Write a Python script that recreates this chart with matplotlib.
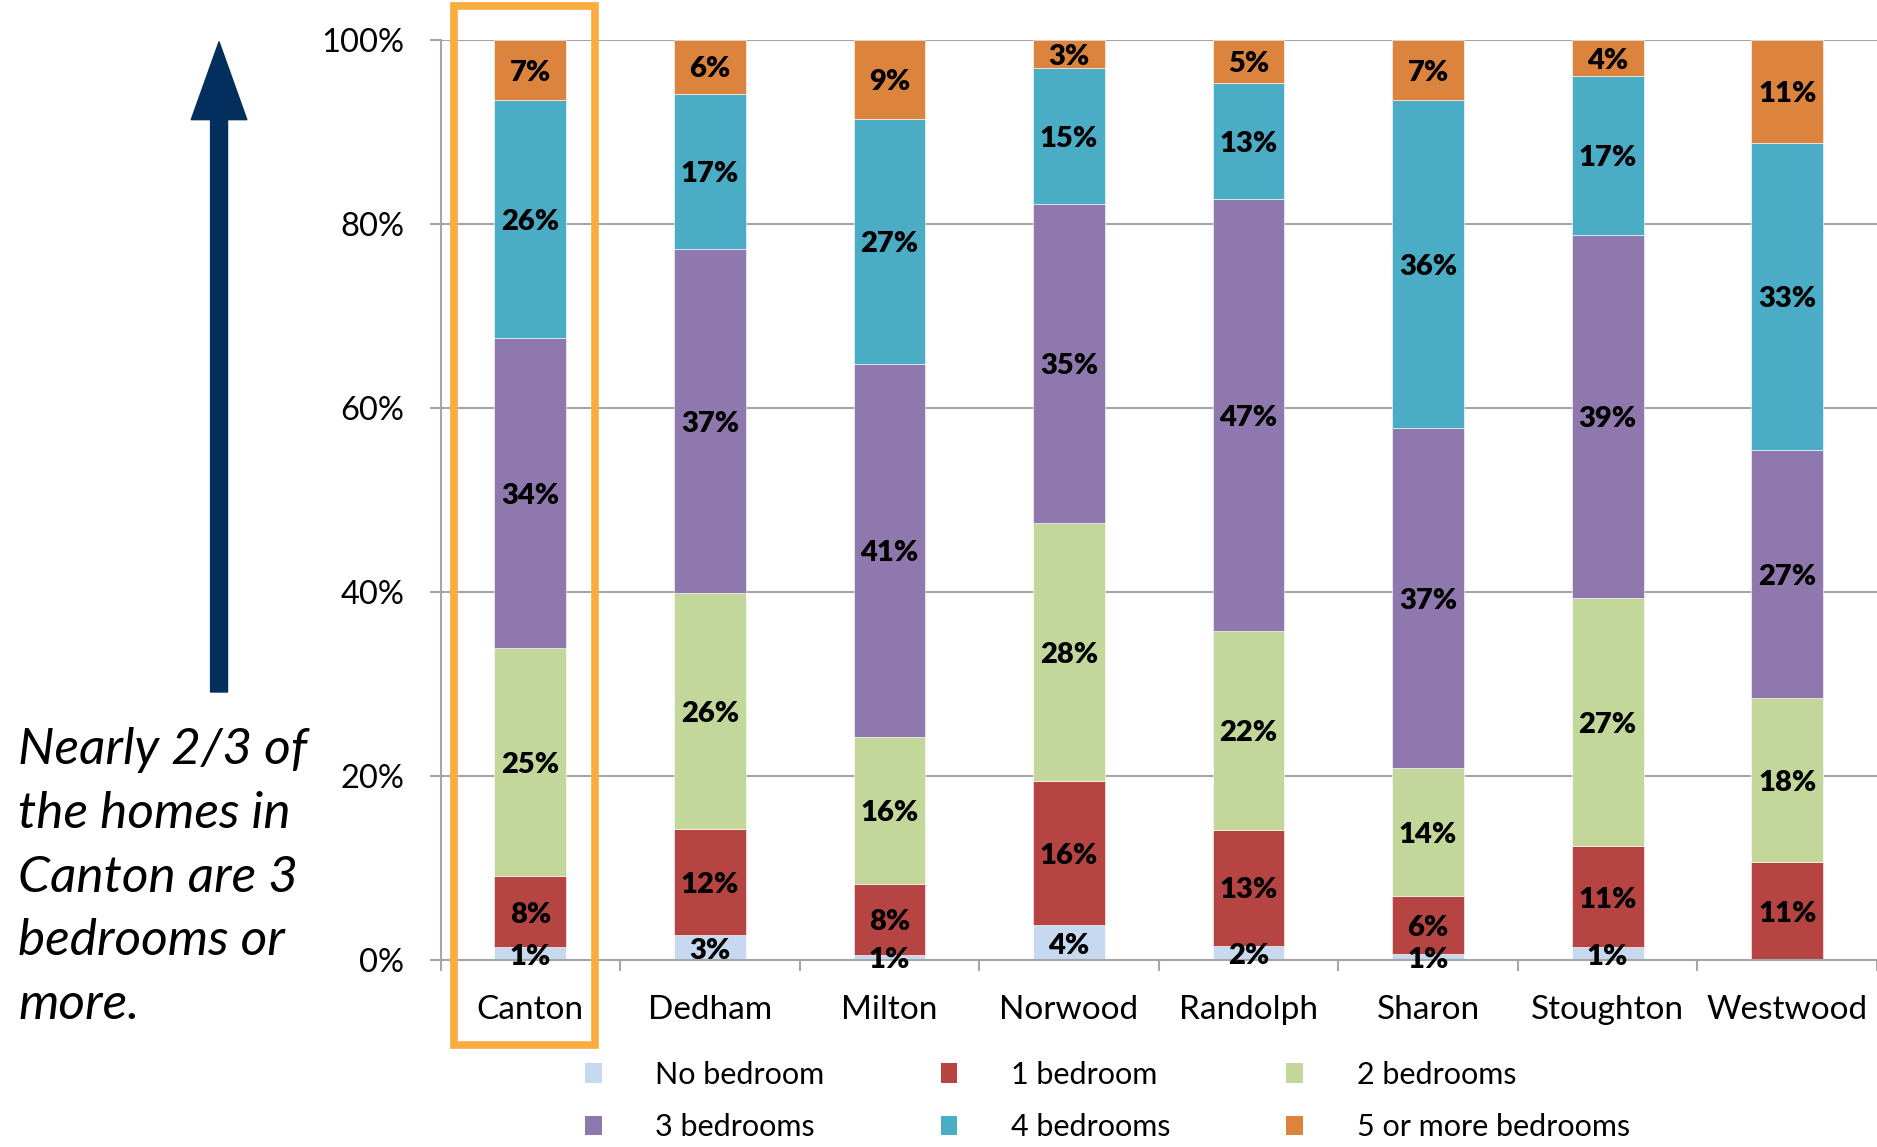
import matplotlib
matplotlib.use("Agg")
import matplotlib.pyplot as plt
import numpy as np
from matplotlib.patches import Patch, Rectangle

plt.rcParams['font.family'] = ['Lato', 'DejaVu Sans']

# --------------------------------------------------------------------------
# Data (share of homes, %)
# --------------------------------------------------------------------------
towns = ["Canton", "Dedham", "Milton", "Norwood", "Randolph", "Sharon", "Stoughton", "Westwood"]
series_names = ["No bedroom", "1 bedroom", "2 bedrooms", "3 bedrooms", "4 bedrooms", "5 or more bedrooms"]
no_bedroom = [1.4, 2.7, 0.6, 3.8, 1.6, 0.7, 1.4, 0.0]
one_bedroom = [7.7, 11.6, 7.7, 15.7, 12.6, 6.3, 11.0, 10.7]
two_bedrooms = [24.8, 25.6, 15.9, 28.0, 21.6, 13.9, 27.0, 17.8]
three_bedrooms = [33.7, 37.4, 40.6, 34.6, 46.9, 36.9, 39.4, 26.9]
four_bedrooms = [25.8, 16.8, 26.6, 14.8, 12.6, 35.6, 17.2, 33.4]
five_plus = [6.6, 5.9, 8.6, 3.1, 4.7, 6.6, 4.0, 11.2]
colors = ["#C6D9F0", "#B64442", "#C4D79B", "#8F78AD", "#4BACC6", "#DC843E"]

note = "Nearly 2/3 of\nthe homes in\nCanton are 3\nbedrooms or\nmore."

# --------------------------------------------------------------------------
# Figure
# --------------------------------------------------------------------------
fig = plt.figure(figsize=(18.77, 11.47), dpi=100)
ax = fig.add_axes([0.2347, 0.1628, 0.7653, 0.8027])

grid_c = "#A6A6A6"
x = np.arange(len(towns))
series = [no_bedroom, one_bedroom, two_bedrooms, three_bedrooms, four_bedrooms, five_plus]
bottom = np.zeros(len(towns))
handles = []
for vals, name, c in zip(series, series_names, colors):
    vals = np.array(vals)
    ax.bar(x, vals, 0.4, bottom=bottom, color=c, edgecolor="white", linewidth=0.4, zorder=2)
    for xi, v, b in zip(x, vals, bottom):
        if v > 0:
            ax.text(xi, b + v / 2 - 0.3, f"{v:.0f}%", ha="center", va="center",
                    fontsize=21, fontweight="heavy", color="black", zorder=4)
    bottom += vals
    handles.append(Patch(facecolor=c, edgecolor="none", label=name))

ax.set_xlim(-0.5, len(towns) - 0.5)
ax.set_ylim(0, 100)
ax.set_yticks(np.arange(0, 101, 20))
ax.set_yticklabels([f"{t}%" for t in range(0, 101, 20)])
ax.yaxis.grid(True, color=grid_c, linewidth=1.5, zorder=0)
ax.set_axisbelow(True)

ax.set_xticks(np.arange(-0.5, len(towns)), labels=[])
ax.set_xticks(x, labels=towns, minor=True)
ax.tick_params(axis="x", which="major", length=8, width=1.5, color=grid_c, direction="out")
ax.tick_params(axis="x", which="minor", length=0, pad=25, labelsize=24)
ax.tick_params(axis="y", length=8, width=1.5, color=grid_c, pad=18, labelsize=23.5)

for s in ["top", "right"]:
    ax.spines[s].set_visible(False)
for s in ["left", "bottom"]:
    ax.spines[s].set_color(grid_c)
    ax.spines[s].set_linewidth(1.5)

# legend, row-wise order
order = [0, 3, 1, 4, 2, 5]
fig.legend([handles[i] for i in order], [series_names[i] for i in order],
           ncol=3, loc="upper left", bbox_to_anchor=(0.3035, 0.0885),
           frameon=False, fontsize=22, handlelength=0.55, handleheight=0.6,
           handletextpad=1.75, columnspacing=3.8, labelspacing=0.8, borderpad=0)

# highlight box around Canton
fig.add_artist(Rectangle((0.2417, 0.0887), 0.0753, 0.9061, transform=fig.transFigure,
                         fill=False, edgecolor="#FAAC3E", linewidth=5.5, joinstyle="miter",
                         zorder=5))

# arrow and note
ax.annotate("", xy=(0.1167, 0.9635), xytext=(0.1167, 0.3967),
            xycoords="figure fraction", textcoords="figure fraction",
            arrowprops=dict(arrowstyle="simple,head_length=2.8,head_width=2.0,tail_width=0.61",
                            color="#022F5E", shrinkA=0, shrinkB=0, mutation_scale=20))
fig.text(0.0096, 0.366, note, ha="left", va="top", fontsize=37, style="italic",
         linespacing=1.48)

fig.savefig("out.png", dpi=100)
